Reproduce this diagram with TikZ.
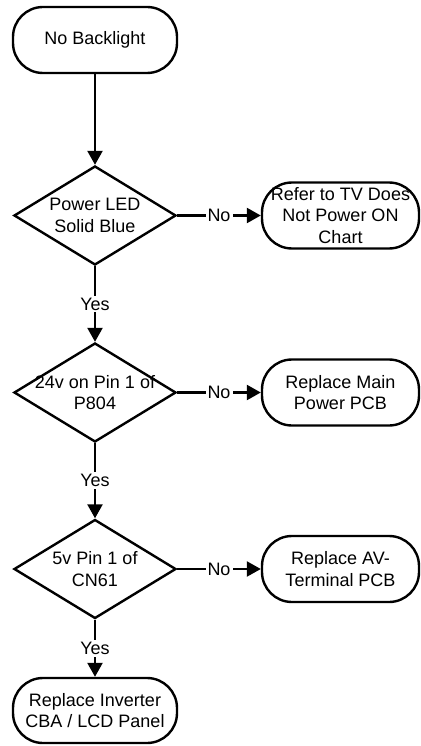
\documentclass[tikz,border=0pt]{standalone}
\usepackage{fontspec}
\setmainfont{Liberation Sans}
\usetikzlibrary{shapes.geometric,arrows.meta}
\newlength{\du}
\setlength{\du}{1\unitlength}
\tikzset{
  chart/.style={font=\fontsize{18}{21.5}\selectfont, line width=2.4\du},
  term/.style={draw, rounded corners=30\du, inner sep=0pt, align=center, minimum width=164\du, minimum height=66\du},
  sideterm/.style={term, minimum width=157\du},
  decide/.style={draw, diamond, inner sep=0pt, minimum width=162\du, minimum height=99\du},
  flow/.style={-{Triangle[length=14pt,width=15pt]}},
  answer/.style={fill=white, inner sep=2\du}
}

\begin{document}
\begin{tikzpicture}[chart]
\pgftransformxscale{1.000000}
\pgftransformyscale{-1.000000}
\useasboundingbox (0\du,0\du) rectangle (420\du,746\du);
% left column
\node[term] (nobl) at (95\du,40\du) {No Backlight};
\node[decide, label={[align=center]center:Power LED\\Solid Blue}] (led) at (95\du,215.5\du) {};
\node[decide, label={[align=center]center:24v on Pin 1 of\\P804}] (pin) at (95\du,392.5\du) {};
\node[decide, label={[align=center]center:5v Pin 1 of\\CN61}] (cn) at (95\du,569\du) {};
\node[term, minimum height=65\du] (inv) at (95\du,710.5\du) {Replace Inverter\\CBA / LCD Panel};
% right column
\node[sideterm] (tvchart) at (340.5\du,215.5\du) {Refer to TV Does\\Not Power ON\\Chart};
\node[sideterm] (mainpcb) at (340.5\du,392.5\du) {Replace Main\\Power PCB};
\node[sideterm] (avpcb) at (340.5\du,569\du) {Replace AV-\\Terminal PCB};
% connectors
\draw[flow] (nobl) -- (led);
\draw[flow] (led) -- node[answer]{Yes} (pin);
\draw[flow] (pin) -- node[answer]{Yes} (cn);
\draw[flow] (cn) -- node[answer]{Yes} (inv);
\draw[flow] (led) -- node[answer]{No} (tvchart);
\draw[flow] (pin) -- node[answer]{No} (mainpcb);
\draw[flow] (cn) -- node[answer]{No} (avpcb);
\end{tikzpicture}
\end{document}
